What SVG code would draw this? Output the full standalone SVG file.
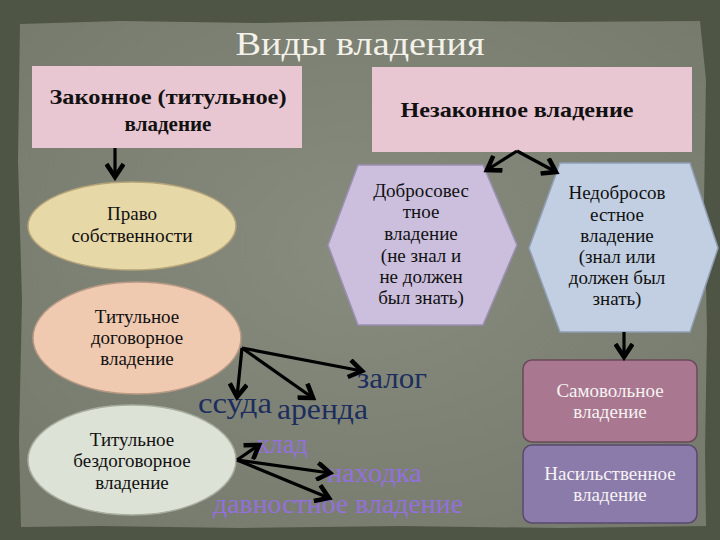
<svg xmlns="http://www.w3.org/2000/svg" width="720" height="540" viewBox="0 0 720 540">
<defs>
<marker id="ah" markerUnits="userSpaceOnUse" markerWidth="20" markerHeight="20" viewBox="0 0 14 14" refX="11" refY="7" orient="auto">
<path d="M2,1 L11,7 L2,13" fill="none" stroke="#000" stroke-width="3.2" stroke-linejoin="miter"/>
</marker>
<radialGradient id="panel" cx="50%" cy="45%" r="65%">
<stop offset="0" stop-color="#878c7f"/>
<stop offset="1" stop-color="#767b6d"/>
</radialGradient>
</defs>
<style>
.lbl{font-family:"Liberation Serif",serif;font-size:19px;fill:#111;text-anchor:middle}
.bold{font-family:"Liberation Serif",serif;font-size:21px;font-weight:bold;fill:#111;text-anchor:middle}
.wt{font-family:"Liberation Serif",serif;font-size:19px;fill:#f6f2f2;text-anchor:middle}
.w1{font-family:"Liberation Serif",serif;font-size:30px;fill:#1c2d5e}
.w2{font-family:"Liberation Serif",serif;font-size:28px;fill:#9370dc}
.con line{stroke:#000;stroke-width:3.2;fill:none;marker-end:url(#ah)}
</style>
<rect width="720" height="540" fill="#4f5544"/>
<path d="M20,24 L120,21 L260,23 L400,20 L560,22 L700,21 L706,80 L704,200 L707,330 L705,450 L706,526 L560,528 L400,526 L240,528 L100,526 L21,527 L19,440 L22,300 L18,160 Z" fill="url(#panel)"/>
<text x="360" y="55" font-family="Liberation Serif,serif" font-size="34" fill="#f4f1ea" text-anchor="middle" textLength="249" lengthAdjust="spacingAndGlyphs">Виды владения</text>

<g id="n-legal">
<rect x="32" y="66" width="270" height="82" fill="#e8c6d2"/>
<text class="bold" x="168" y="104" textLength="237" lengthAdjust="spacingAndGlyphs">Законное (титульное)</text>
<text class="bold" x="168" y="131">владение</text>
</g>
<g id="n-illegal">
<rect x="372" y="67" width="320" height="85" fill="#e8c6d2"/>
<text class="bold" x="517" y="117" textLength="233" lengthAdjust="spacingAndGlyphs">Незаконное владение</text>
</g>
<g id="n-own">
<ellipse cx="132" cy="226" rx="104" ry="44" fill="#e7d8a8" stroke="#b5a37a" stroke-width="1.5"/>
<text class="lbl" x="132" y="220">Право</text>
<text class="lbl" x="132" y="242" textLength="121" lengthAdjust="spacingAndGlyphs">собственности</text>
</g>
<g id="n-contract">
<ellipse cx="137" cy="338" rx="104" ry="56" fill="#efc9b0" stroke="#b89a85" stroke-width="1.5"/>
<text class="lbl" x="137" y="323">Титульное</text>
<text class="lbl" x="137" y="344">договорное</text>
<text class="lbl" x="137" y="365">владение</text>
</g>
<g id="n-noncontract">
<ellipse cx="132" cy="460" rx="104" ry="55" fill="#dde2d6" stroke="#a7ad9f" stroke-width="1.5"/>
<text class="lbl" x="132" y="446">Титульное</text>
<text class="lbl" x="132" y="467">бездоговорное</text>
<text class="lbl" x="132" y="489">владение</text>
</g>
<g id="n-goodfaith">
<polygon points="328,245 358,165 483,165 517,245 483,325 358,325" fill="#cbbfdd" stroke="#9b90b2" stroke-width="1.5"/>
<text class="lbl" x="421" y="197">Добросовес</text>
<text class="lbl" x="421" y="218">тное</text>
<text class="lbl" x="421" y="240">владение</text>
<text class="lbl" x="421" y="262">(не знал и</text>
<text class="lbl" x="421" y="283">не должен</text>
<text class="lbl" x="421" y="304">был знать)</text>
</g>
<g id="n-badfaith">
<polygon points="529,248 560,163 690,163 718,248 690,332 560,332" fill="#c2cfe2" stroke="#8f9fb5" stroke-width="1.5"/>
<text class="lbl" x="617" y="199">Недобросов</text>
<text class="lbl" x="617" y="221">естное</text>
<text class="lbl" x="617" y="242">владение</text>
<text class="lbl" x="617" y="263">(знал или</text>
<text class="lbl" x="617" y="284">должен был</text>
<text class="lbl" x="617" y="305">знать)</text>
</g>
<g id="n-selfwill">
<rect x="523" y="360" width="174" height="82" rx="9" fill="#a97890" stroke="#6a4a5a" stroke-width="1.5"/>
<text class="wt" x="610" y="397">Самовольное</text>
<text class="wt" x="610" y="418">владение</text>
</g>
<g id="n-violent">
<rect x="523" y="445" width="174" height="78" rx="9" fill="#8b7bab" stroke="#5a4a70" stroke-width="1.5"/>
<text class="wt" x="610" y="480">Насильственное</text>
<text class="wt" x="610" y="501">владение</text>
</g>
<g id="n-words">
<text class="w1" x="357" y="388" textLength="70" lengthAdjust="spacingAndGlyphs">залог</text>
<text class="w1" x="198" y="413" textLength="74" lengthAdjust="spacingAndGlyphs">ссуда</text>
<text class="w1" x="277" y="419" textLength="91" lengthAdjust="spacingAndGlyphs">аренда</text>
<text class="w2" x="257" y="453" textLength="51" lengthAdjust="spacingAndGlyphs">клад</text>
<text class="w2" x="327" y="482" textLength="95" lengthAdjust="spacingAndGlyphs">находка</text>
<text class="w2" x="213" y="513" textLength="250" lengthAdjust="spacingAndGlyphs">давностное владение</text>
</g>
<g id="connectors" class="con">
<line x1="115" y1="148" x2="115" y2="177"/>
<line x1="517" y1="151" x2="487" y2="170"/>
<line x1="517" y1="151" x2="556" y2="172"/>
<line x1="624" y1="332" x2="624" y2="357"/>
<line x1="242" y1="348" x2="362" y2="371"/>
<line x1="242" y1="348" x2="313" y2="398"/>
<line x1="242" y1="348" x2="237" y2="397"/>
<line x1="237" y1="460" x2="259" y2="445"/>
<line x1="237" y1="460" x2="330" y2="473"/>
<line x1="237" y1="460" x2="329" y2="498"/>
</g>
</svg>
